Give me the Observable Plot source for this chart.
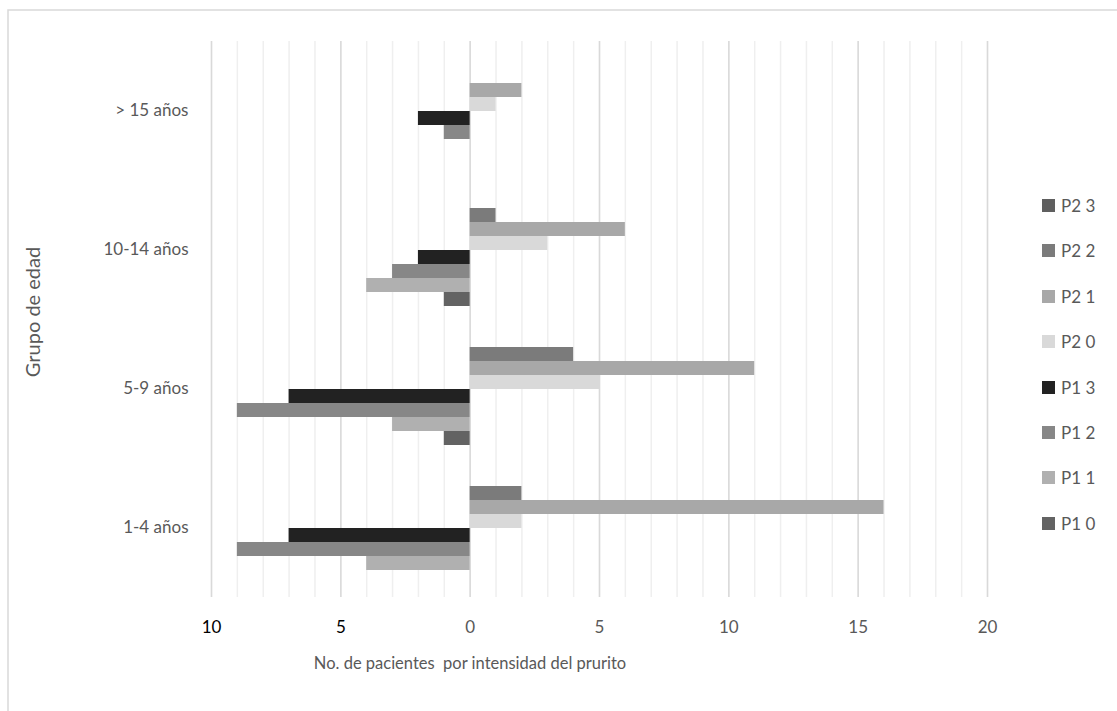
<!DOCTYPE html>
<html>
<head>
<meta charset="utf-8">
<script src="https://cdn.jsdelivr.net/npm/d3@7"></script>
<script src="https://cdn.jsdelivr.net/npm/@observablehq/plot@0.6"></script>
<style>
  html, body { margin: 0; padding: 0; background: #fff; }
  #wrap { position: relative; width: 1117px; height: 711px; overflow: hidden; font-family: Lato, "Open Sans", sans-serif; }
  #legend { position: absolute; left: 1042px; top: 196px; display: flex; flex-direction: column; gap: 26.4px; }
  .item { display: flex; align-items: center; height: 19px; font-size: 17px; color: #595959; }
  .sw { width: 13px; height: 13px; margin-right: 6px; }
</style>
</head>
<body>
<div id="wrap"><div id="legend"></div></div>
<script>
// Age groups (top to bottom)
const groups = ["> 15 años", "10-14 años", "5-9 años", "1-4 años"];
// Series (top to bottom within each group)
const series = ["P2 3", "P2 2", "P2 1", "P2 0", "P1 3", "P1 2", "P1 1", "P1 0"];
const colors = ["#5f5f5f", "#7b7b7b", "#a8a8a8", "#d9d9d9", "#222222", "#878787", "#b0b0b0", "#636363"];
// Values per series, in the order of `groups` (P1 drawn to the left as negatives)
const p2_3 = [0, 0, 0, 0];
const p2_2 = [0, 1, 4, 2];
const p2_1 = [2, 6, 11, 16];
const p2_0 = [1, 3, 5, 2];
const p1_3 = [-2, -2, -7, -7];
const p1_2 = [-1, -3, -9, -9];
const p1_1 = [0, -4, -3, -4];
const p1_0 = [0, -1, -1, 0];
const xTicks = [-10, -5, 0, 5, 10, 15, 20];
const minorTicks = d3.range(-10, 21);
const xTitle = "No. de pacientes  por intensidad del prurito";
const yTitle = "Grupo de edad";

const valueLists = [p2_3, p2_2, p2_1, p2_0, p1_3, p1_2, p1_1, p1_0];
const rows = [];
series.forEach((s, i) => groups.forEach((g, j) => rows.push({series: s, group: g, value: valueLists[i][j]})));

const chart = Plot.plot({
  width: 1117,
  height: 711,
  marginLeft: 211,
  marginRight: 130,
  marginTop: 40,
  marginBottom: 114,
  style: {fontFamily: "Lato, 'Open Sans', sans-serif", fontSize: "17px", color: "#595959", background: "transparent"},
  x: {domain: [-10, 20]},
  y: {domain: series, axis: null, paddingInner: 0, paddingOuter: 0.877},
  fy: {domain: groups, padding: 0},
  color: {domain: series, range: colors},
  marks: [
    Plot.gridX(minorTicks, {stroke: "#efefef", strokeOpacity: 1, strokeWidth: 1.5}),
    Plot.gridX(xTicks, {stroke: "#d9d9d9", strokeOpacity: 1, strokeWidth: 1.5}),
    Plot.barX(rows, {x: "value", y: "series", fy: "group", fill: "series", insetTop: 0, insetBottom: 0}),
    Plot.axisX(xTicks.filter(d => d < 0), {tickSize: 0, tickPadding: 23, tickFormat: d => Math.abs(d), fill: "#000", label: null, fontSize: 17}),
    Plot.axisX(xTicks.filter(d => d >= 0), {tickSize: 0, tickPadding: 23, tickFormat: d => Math.abs(d), fill: "#595959", label: null, fontSize: 17}),
    Plot.axisFy({anchor: "left", tickSize: 0, tickPadding: 23, label: null, fontSize: 17, fill: "#595959"})
  ]
});

const svg = d3.select(chart);
svg.insert("rect", ":first-child")
  .attr("x", 8).attr("y", 10).attr("width", 1300).attr("height", 900)
  .attr("fill", "none").attr("stroke", "#d9d9d9").attr("stroke-width", 1.5);
svg.append("text")
  .attr("x", 470).attr("y", 665)
  .attr("text-anchor", "middle").attr("dominant-baseline", "middle")
  .style("white-space", "pre").attr("fill", "#595959").attr("font-size", 16.5)
  .text(xTitle);
svg.append("text")
  .attr("transform", "translate(35,312) rotate(-90)")
  .attr("text-anchor", "middle").attr("dominant-baseline", "middle")
  .attr("fill", "#595959").attr("font-size", 20)
  .text(yTitle);

const wrap = document.getElementById("wrap");
wrap.insertBefore(chart, wrap.firstChild);

const legend = d3.select("#legend");
series.forEach((s, i) => {
  const it = legend.append("div").attr("class", "item");
  it.append("div").attr("class", "sw").style("background", colors[i]);
  it.append("span").text(s);
});
</script>
</body>
</html>
